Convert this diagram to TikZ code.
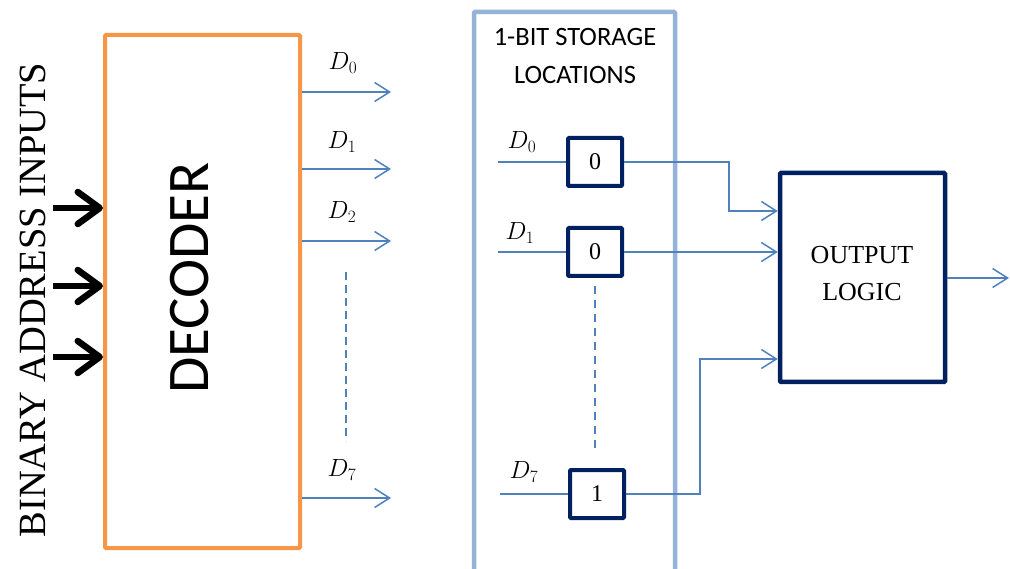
\documentclass[tikz,border=0pt]{standalone}
\usepackage{fontspec}
\setmainfont{Liberation Serif}
\newfontfamily\calib{Carlito}
\usetikzlibrary{arrows.meta}
\definecolor{orng}{HTML}{F79646}
\definecolor{lblue}{HTML}{95B3D7}
\definecolor{lineblue}{HTML}{4F81BD}
\definecolor{navy}{RGB}{0,32,96}
\tikzset{
  bl/.style={draw=lineblue, line width=1.5pt},
  blarrow/.style={bl, -{Straight Barb[length=15pt,width=19pt]}},
  thickarrow/.style={draw=black, line width=6.5pt, -{Straight Barb[length=22pt,width=32pt,round]}},
  cell/.style={draw=navy, line width=4pt, rounded corners=1pt, minimum width=54pt, minimum height=48pt, inner sep=0pt, font=\fontsize{24}{26}\selectfont},
  dlabel/.style={inner sep=0pt, font=\fontsize{27}{29}\selectfont},
}
\begin{document}
\begin{tikzpicture}[x=1pt,y=-1pt]
\useasboundingbox (0,0) rectangle (1010,569);
\fill[white] (0,0) rectangle (1010,569);

% left title
\node[rotate=90, inner sep=0pt, font=\fontsize{38.5}{40}\selectfont] (bai) at (33,300) {BINARY ADDRESS INPUTS};

% decoder
\node[draw=orng, line width=4pt, rounded corners=1pt, minimum width=195pt, minimum height=513pt, inner sep=0pt] (dec) at (202.5,291.5) {};
\node[rotate=90, inner sep=0pt, font=\calib\fontsize{59}{61}\selectfont] (dectext) at (190,278) {DECODER};

\coordinate (b1) at (53,208);
\coordinate (b2) at (53,286);
\coordinate (b3) at (53,357);
\draw[thickarrow] (b1) -- (dec.west |- b1);
\draw[thickarrow] (b2) -- (dec.west |- b2);
\draw[thickarrow] (b3) -- (dec.west |- b3);

% decoder outputs
\coordinate (o0) at (391,92);
\coordinate (o1) at (391,169);
\coordinate (o2) at (391,241);
\coordinate (o7) at (391,498);
\draw[blarrow] (dec.east |- o0) -- (o0);
\draw[blarrow] (dec.east |- o1) -- (o1);
\draw[blarrow] (dec.east |- o2) -- (o2);
\draw[blarrow] (dec.east |- o7) -- (o7);
\node[dlabel] (ld0) at (343,63) {$D_0$};
\node[dlabel] (ld1) at (342,142) {$D_1$};
\node[dlabel] (ld2) at (342,212) {$D_2$};
\node[dlabel] (ld7) at (342,470) {$D_7$};
\coordinate (dt) at (346,272);
\coordinate (db) at (346,441);
\draw[bl, dash pattern=on 8pt off 5pt] (dt) -- (db);

% storage column
\begin{scope}
\clip (0,0) rectangle (1010,569);
\draw[draw=lblue, line width=4.5pt, rounded corners=1pt] (474,600) -- (474,12) -- (675,12) -- (675,600);
\end{scope}
\node[align=center, inner sep=0pt, font=\calib\fontsize{26.5}{38}\selectfont] (title) at (575,56) {1-BIT STORAGE\\LOCATIONS};

\node[cell] (c0) at (595,162) {0};
\node[cell] (c1) at (595,252) {0};
\node[cell] (c7) at (597,494) {1};
\coordinate (i0) at (498,162);
\coordinate (i1) at (498,252);
\coordinate (i7) at (500,494);
\draw[bl] (i0) -- (c0.west);
\draw[bl] (i1) -- (c1.west);
\draw[bl] (i7) -- (c7.west);
\node[dlabel] (sd0) at (522,142) {$D_0$};
\node[dlabel] (sd1) at (520,233) {$D_1$};
\node[dlabel] (sd7) at (524,472) {$D_7$};
\draw[bl, dash pattern=on 8pt off 6pt] ([yshift=-8pt]c1.south) -- ([yshift=15pt]c7.north -| c1.south);

% output logic
\node[draw=navy, line width=4.5pt, rounded corners=1pt, minimum width=165pt, minimum height=209pt, inner sep=0pt] (out) at (862.5,277.5) {};
\node[align=center, inner sep=0pt, font=\fontsize{26}{37}\selectfont] (outtext) at (862,273.5) {OUTPUT\\LOGIC};

\draw[blarrow] (c0.east) -| (729,211) -- (out.west |- 0,211);
\draw[blarrow] (c1.east) -- (out.west |- c1.east);
\draw[blarrow] (c7.east) -| (700,359) -- (out.west |- 0,359);
\coordinate (fin) at (1009,278);
\draw[blarrow] (out.east |- fin) -- (fin);
\end{tikzpicture}
\end{document}
